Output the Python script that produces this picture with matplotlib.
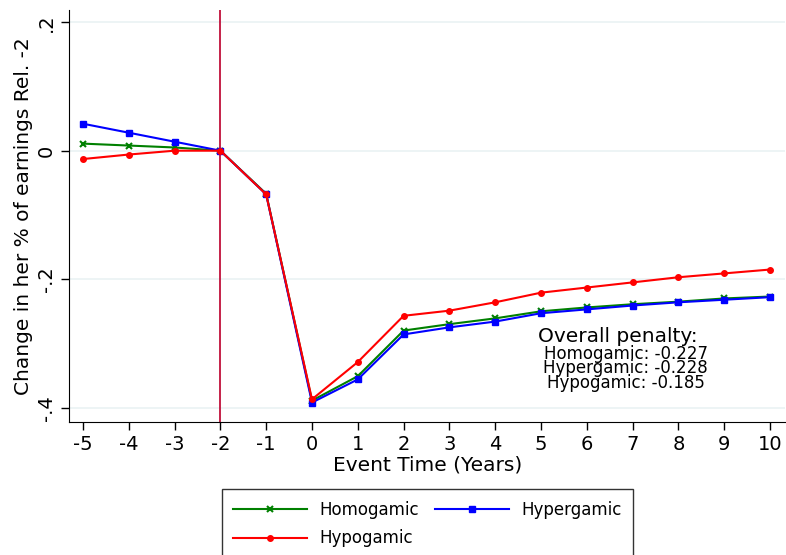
import matplotlib
matplotlib.use('Agg')
import matplotlib.pyplot as plt
import numpy as np

event_time = np.arange(-5, 11)
homogamic = [0.011, 0.008, 0.005, 0.0, -0.067, -0.389, -0.351, -0.280, -0.270, -0.261,
             -0.250, -0.244, -0.239, -0.235, -0.230, -0.227]
hypergamic = [0.042, 0.028, 0.014, 0.0, -0.068, -0.392, -0.356, -0.286, -0.275, -0.266,
              -0.253, -0.247, -0.241, -0.236, -0.232, -0.228]
hypogamic = [-0.013, -0.006, 0.0, 0.0, -0.068, -0.387, -0.329, -0.257, -0.249, -0.236,
             -0.221, -0.213, -0.205, -0.197, -0.191, -0.185]
penalties = {'Homogamic': -0.227, 'Hypergamic': -0.228, 'Hypogamic': -0.185}

fig = plt.figure(figsize=(7.86, 5.55), dpi=100)
ax = fig.add_axes([0.088, 0.24, 0.911, 0.742])

for yv in [-0.4, -0.2, 0, 0.2]:
    ax.axhline(yv, color='#eaf2f3', lw=1.2, zorder=0)

ax.axvline(-2, color='#c0103a', lw=1.3, zorder=1)

l1, = ax.plot(event_time, homogamic, color='green', marker='x', ms=4, mew=1.5, lw=1.5, label='Homogamic')
l2, = ax.plot(event_time, hypergamic, color='blue', marker='s', ms=4, lw=1.5, label='Hypergamic')
l3, = ax.plot(event_time, hypogamic, color='red', marker='o', ms=4, lw=1.5, label='Hypogamic')

ax.set_xlim(-5.3, 10.33)
ax.set_ylim(-0.422, 0.219)
ax.set_xticks(event_time)
ax.set_xticklabels([str(t) for t in event_time], fontsize=14)
ax.set_yticks([-0.4, -0.2, 0, 0.2])
ax.set_yticklabels(['-.4', '-.2', '0', '.2'], fontsize=14, rotation=90, va='center')
ax.tick_params(direction='out', length=6, width=1)
ax.spines['top'].set_visible(False)
ax.spines['right'].set_visible(False)
ax.set_xlabel('Event Time (Years)', fontsize=14.5, labelpad=1)
ax.set_ylabel('Change in her % of earnings Rel. -2', fontsize=14.5, labelpad=3)

ax.text(6.68, -0.289, 'Overall penalty:', fontsize=14.5, ha='center', va='center')
txt = '\n'.join(f'{k}: {v:.3f}' for k, v in penalties.items())
ax.text(6.85, -0.303, txt, fontsize=12, ha='center', va='top', linespacing=0.72)

leg = fig.legend(handles=[l1, l3, l2], loc='upper left', bbox_to_anchor=(0.282, 0.119),
                 borderaxespad=0, ncol=2, fontsize=12, frameon=True, fancybox=False,
                 edgecolor='black', handlelength=4.4, columnspacing=1.0, borderpad=0.7,
                 labelspacing=0.65, handletextpad=0.75)
leg.get_frame().set_linewidth(1)

plt.savefig('out.png', dpi=100)
